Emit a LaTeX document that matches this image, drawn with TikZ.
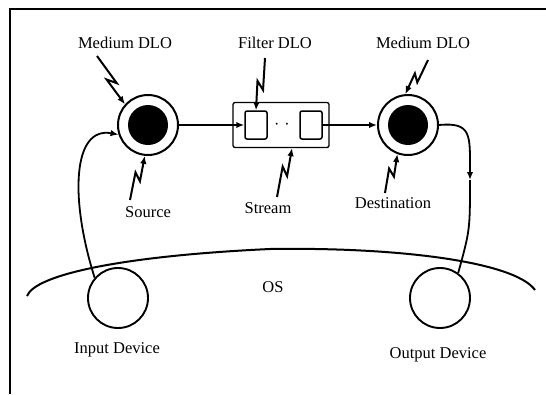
\documentclass[tikz,border=0pt]{standalone}
\usepackage{fontspec}
\setmainfont{Liberation Serif}
\usetikzlibrary{calc,arrows.meta}
\begin{document}
\begin{tikzpicture}[x=1pt,y=-1pt,
  lbl/.style={font=\fontsize{16.5}{18}\selectfont, inner sep=0pt},
  ring/.style={circle,draw,line width=2pt,minimum size=60pt,inner sep=0pt},
  core/.style={circle,fill=black,minimum size=40pt,inner sep=0pt},
  dev/.style={circle,draw,line width=1.9pt,minimum size=60pt,inner sep=0pt},
  fbx/.style={draw,line width=1.3pt,rounded corners=2pt,minimum width=96pt,minimum height=45pt,inner sep=0pt},
  sq/.style={draw,line width=1.5pt,rounded corners=2pt,minimum width=22pt,minimum height=28pt,inner sep=0pt},
  conn/.style={line width=1.8pt},
  tip/.style={-{Latex[length=8pt,width=6.5pt]}},
  bolt/.style={line width=2pt, tip,
    to path={-- ($(\tikztostart)!0.6!(\tikztotarget)!3.5pt!90:(\tikztotarget)$)
             -- ($(\tikztostart)!0.45!(\tikztotarget)!3.5pt!-90:(\tikztotarget)$)
             -- (\tikztotarget)}}
]
\useasboundingbox (0,0) rectangle (546,394);
% frame
\draw[line width=2.2pt] (10,394) -- (10,9) -- (546,9);

% DLO circles
\node[ring] (src) at (148,125) {};
\node[core] (srcc) at (148,125) {};
\node[ring] (dst) at (408,125) {};
\node[core] (dstc) at (408,125) {};

% filter box
\node[fbx] (fbox) at (281,125) {};
\node[sq] (f1) at (256,125) {};
\node[sq] (f2) at (311,125) {};
\node[font=\fontsize{16}{18}\selectfont, inner sep=0pt] (dots) at (282,126) {\textperiodcentered\hspace{5pt}\textperiodcentered};

% devices
\node[dev] (indev) at (118,298) {};
\node[dev] (outdev) at (440,298) {};

% labels
\node[lbl] (lM1) at (125,43) {Medium DLO};
\node[lbl] (lF) at (275,43) {Filter DLO};
\node[lbl] (lM2) at (423,43) {Medium DLO};
\node[lbl] (lS) at (148,212) {Source};
\node[lbl] (lSt) at (268,208) {Stream};
\node[lbl] (lD) at (393,203) {Destination};
\node[lbl] (lOS) at (273,287) {OS};
\node[lbl] (lI) at (117,350) {Input Device};
\node[lbl] (lO) at (438,355) {Output Device};

% OS boundary
\draw[line width=2pt] (27,296) .. controls (35,275) and (120,256) .. (270,249)
                        .. controls (400,247) and (515,262) .. (535,290);

% data flow connectors
\draw[conn,tip] (src) -- (f1);
\draw[conn,tip] (f2) -- (dst);
\draw[conn,tip] (indev.139) .. controls (70,200) and (72,126) .. (src.198);
\coordinate (mid) at (470,180);
\draw[conn,tip] (dst.east) .. controls (472,122) and (470,135) .. (mid);
\draw[conn] (mid) .. controls (470,230) .. (outdev.54);

% lightning pointers
\coordinate (bM1) at (97,56);
\coordinate (bF) at (265,58);
\coordinate (bM2) at (428,60);
\coordinate (bS) at (130,200);
\coordinate (bSt) at (277,197);
\coordinate (bD) at (385,193);
\coordinate (fbs) at ($(fbox.south)+(11,0)$);
\draw[bolt] (bM1) to (src.138);
\draw[bolt] (bF) to (f1.north);
\draw[bolt] (bM2) to (dst.95);
\draw[bolt] (bS) to (src.264);
\draw[bolt] (bSt) to (fbs);
\draw[bolt] (bD) to (dst.250);
\end{tikzpicture}
\end{document}
